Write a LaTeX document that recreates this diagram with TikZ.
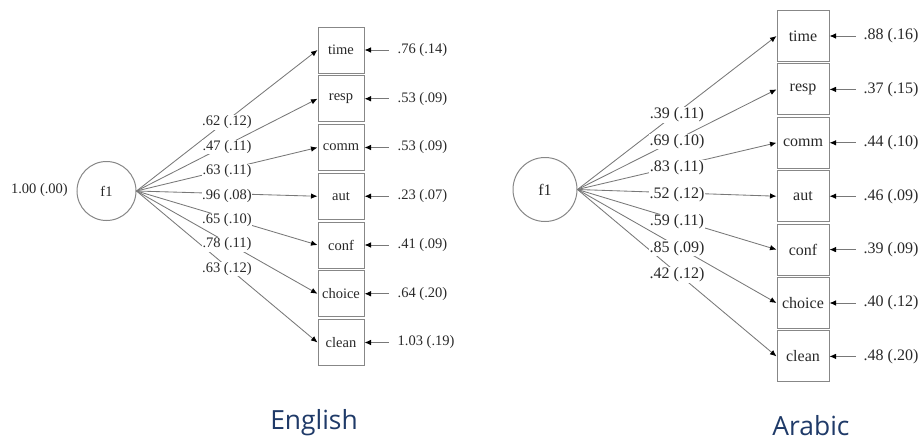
\documentclass[tikz,border=0pt]{standalone}
\usepackage{fontspec}
\setmainfont{Liberation Serif}
\newfontfamily\titlefont{Open Sans}
\usetikzlibrary{arrows.meta,calc}
\definecolor{linegray}{RGB}{120,120,120}
\definecolor{boxgray}{RGB}{135,135,135}
\definecolor{txt}{RGB}{40,40,40}
\definecolor{titleblue}{RGB}{31,58,104}

\begin{document}
\begin{tikzpicture}[x=1pt,y=-1pt,
  latent/.style={circle,draw=boxgray,line width=1pt,minimum size=#1,inner sep=0pt,text=txt},
  indicator/.style={rectangle,draw=boxgray,line width=1pt,inner sep=0pt,text=txt},
  loadlab/.style={fill=white,inner sep=0.6pt,text=txt,yshift=-2pt},
  errlab/.style={anchor=west,inner sep=0pt,text=txt},
  loadpath/.style={draw=linegray,line width=0.85pt,-{Latex[length=6.5pt,width=5.5pt,color=black]}},
  errpath/.style={draw=linegray,line width=0.85pt,-{Latex[length=6.5pt,width=5.5pt,color=black]}},
  paneltitle/.style={font=\titlefont\fontsize{26.4}{30}\selectfont,text=titleblue,inner sep=0pt}
]
\useasboundingbox (0,0) rectangle (922,442);

% ---------------- English model ----------------
\begin{scope}[font=\fontsize{14.5}{16}\selectfont]
  \node[latent=59pt] (Ef) at (106.5,191) {f1};
  \node[anchor=east,inner sep=0pt,text=txt] (Evar) at (68,190) {1.00 (.00)};
  \foreach \nm [count=\k from 0] in {time,resp,comm,aut,conf,choice,clean}
    \node[indicator,minimum width=46pt,minimum height=46pt] (E\nm) at (341,50+48.75*\k) {\nm};
  \foreach \nm in {time,resp,comm,aut,conf,choice,clean}
    \draw[loadpath] (Ef.east) -- (E\nm.west);
  \foreach \nm/\ld/\er in {time/{.62 (.12)}/{.76 (.14)},resp/{.47 (.11)}/{.53 (.09)},
      comm/{.63 (.11)}/{.53 (.09)},aut/{.96 (.08)}/{.23 (.07)},conf/{.65 (.10)}/{.41 (.09)},
      choice/{.78 (.11)}/{.64 (.20)},clean/{.63 (.12)}/{1.03 (.19)}}{
    \node[loadlab] (El\nm) at ($(Ef.east)!0.5!(E\nm.west)$) {\ld};
    \node[errlab] (Ee\nm) at ([xshift=33pt]E\nm.east) {\er};
    \draw[errpath] ([xshift=-9pt]Ee\nm.west) -- (E\nm.east);
  }
\end{scope}
\node[paneltitle] (Etitle) at (314,423) {English};

% ---------------- Arabic model ----------------
\begin{scope}[font=\fontsize{16}{18}\selectfont]
  \node[latent=64pt] (Af) at (545,189.5) {f1};
  \foreach \nm [count=\k from 0] in {time,resp,comm,aut,conf,choice,clean}
    \node[indicator,minimum width=52pt,minimum height=51pt] (A\nm) at (803,36+53.4*\k) {\nm};
  \foreach \nm in {time,resp,comm,aut,conf,choice,clean}
    \draw[loadpath] (Af.east) -- (A\nm.west);
  \foreach \nm/\ld/\er in {time/{.39 (.11)}/{.88 (.16)},resp/{.69 (.10)}/{.37 (.15)},
      comm/{.83 (.11)}/{.44 (.10)},aut/{.52 (.12)}/{.46 (.09)},conf/{.59 (.11)}/{.39 (.09)},
      choice/{.85 (.09)}/{.40 (.12)},clean/{.42 (.12)}/{.48 (.20)}}{
    \node[loadlab] (Al\nm) at ($(Af.east)!0.5!(A\nm.west)$) {\ld};
    \node[errlab] (Ae\nm) at ([xshift=34pt]A\nm.east) {\er};
    \draw[errpath] ([xshift=-8pt]Ae\nm.west) -- (A\nm.east);
  }
\end{scope}
\node[paneltitle] (Atitle) at (811,426) {Arabic};
\end{tikzpicture}
\end{document}
